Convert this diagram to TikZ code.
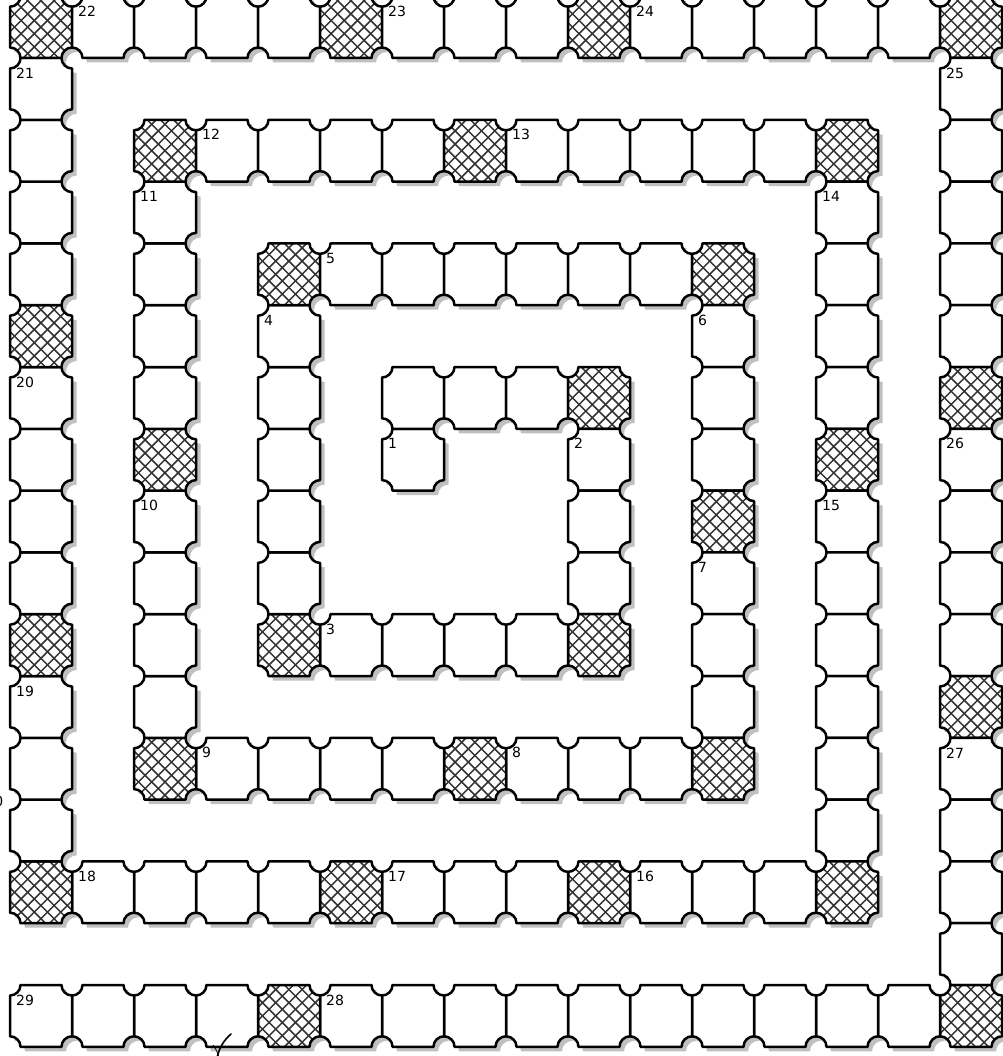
\documentclass[tikz,border=0pt]{standalone}
\usepackage{fontspec}
\setmainfont{DejaVu Sans}
\definecolor{shadowc}{RGB}{192,192,192}
\definecolor{hatchc}{RGB}{50,50,50}
\def\celllist{6/7/0, 6/6/0, 7/6/0, 8/6/0, 9/6/1,
9/7/0, 9/8/0, 9/9/0, 9/10/1,
8/10/0, 7/10/0, 6/10/0, 5/10/0, 4/10/1,
4/9/0, 4/8/0, 4/7/0, 4/6/0, 4/5/0, 4/4/1,
5/4/0, 6/4/0, 7/4/0, 8/4/0, 9/4/0, 10/4/0, 11/4/1,
11/5/0, 11/6/0, 11/7/0, 11/8/1, 11/9/0, 11/10/0, 11/11/0, 11/12/1,
10/12/0, 9/12/0, 8/12/0, 7/12/1, 6/12/0, 5/12/0, 4/12/0, 3/12/0, 2/12/1,
2/11/0, 2/10/0, 2/9/0, 2/8/0, 2/7/1, 2/6/0, 2/5/0, 2/4/0, 2/3/0, 2/2/1,
3/2/0, 4/2/0, 5/2/0, 6/2/0, 7/2/1, 8/2/0, 9/2/0, 10/2/0, 11/2/0, 12/2/0, 13/2/1,
13/3/0, 13/4/0, 13/5/0, 13/6/0, 13/7/1, 13/8/0, 13/9/0, 13/10/0, 13/11/0, 13/12/0, 13/13/0, 13/14/1,
12/14/0, 11/14/0, 10/14/0, 9/14/1, 8/14/0, 7/14/0, 6/14/0, 5/14/1, 4/14/0, 3/14/0, 2/14/0, 1/14/0, 0/14/1,
0/13/0, 0/12/0, 0/11/0, 0/10/1, 0/9/0, 0/8/0, 0/7/0, 0/6/0, 0/5/1, 0/4/0, 0/3/0, 0/2/0, 0/1/0, 0/0/1,
1/0/0, 2/0/0, 3/0/0, 4/0/0, 5/0/1, 6/0/0, 7/0/0, 8/0/0, 9/0/1, 10/0/0, 11/0/0, 12/0/0, 13/0/0, 14/0/0, 15/0/1,
15/1/0, 15/2/0, 15/3/0, 15/4/0, 15/5/0, 15/6/1, 15/7/0, 15/8/0, 15/9/0, 15/10/0, 15/11/1, 15/12/0, 15/13/0, 15/14/0, 15/15/0, 15/16/1,
14/16/0, 13/16/0, 12/16/0, 11/16/0, 10/16/0, 9/16/0, 8/16/0, 7/16/0, 6/16/0, 5/16/0, 4/16/1, 3/16/0, 2/16/0, 1/16/0, 0/16/0}
\begin{document}
\begin{tikzpicture}[x=1pt,y=1pt,
  tileshape/.style={insert path={(10.5,0) -- (51.5,0) arc[start angle=180,end angle=90,radius=10.5] -- (62,51.3) arc[start angle=270,end angle=180,radius=10.5] -- (10.5,61.8) arc[start angle=0,end angle=-90,radius=10.5] -- (0,10.5) arc[start angle=90,end angle=0,radius=10.5] -- cycle}},
  tileline/.style={draw=black,line width=2.5pt,line join=round},
  hatchline/.style={draw=hatchc,line width=1.5pt},
  lbl/.style={anchor=west,inner sep=0pt,font=\fontsize{14}{16}\selectfont}]
\useasboundingbox[fill=white] (0,0) rectangle (1002,-1056);
% shadows
\foreach \c/\r/\h in \celllist {
  \pgfmathsetmacro\X{10+62*\c}
  \pgfmathsetmacro\Y{3.8-61.8*\r-61.8}
  \fill[shadowc, shift={(\X+4.5,\Y-4.5)}, tileshape];
}
% tiles
\foreach \c/\r/\h in \celllist {
  \pgfmathsetmacro\X{10+62*\c}
  \pgfmathsetmacro\Y{3.8-61.8*\r-61.8}
  \begin{scope}[shift={(\X,\Y)}]
    \fill[white, tileshape];
    \ifnum\h=1
      \begin{scope}
        \clip[tileshape];
        \foreach \k in {-5,...,5} {
          \draw[hatchline] (\k*13.2-4,-4) -- ++(70,70);
          \draw[hatchline] (\k*13.2-4,65.8) -- ++(70,-70);
        }
      \end{scope}
    \fi
    \draw[tileline, tileshape];
  \end{scope}
}
% labels
\foreach \c/\r/\t in {6/7/1, 9/7/2, 5/10/3, 4/5/4, 5/4/5, 11/5/6, 11/9/7, 8/12/8, 3/12/9, 2/8/10, 2/3/11, 3/2/12, 8/2/13, 13/3/14, 13/8/15, 10/14/16, 6/14/17, 1/14/18, 0/11/19, 0/6/20, 0/1/21, 1/0/22, 6/0/23, 10/0/24, 15/1/25, 15/7/26, 15/12/27, 5/16/28, 0/16/29} {
  \node[lbl] (lab\t) at ({10+62*\c+6},{-(-3.8+61.8*\r+15)}) {\t};
}
\node[lbl,anchor=east] (lab30) at (3.5,-801) {30};
% cut-off flourish at the bottom
\draw[line width=1.6pt,line cap=round] (231,-1034) .. controls (224,-1040) and (219,-1048) .. (217,-1058);
\draw[line width=0.8pt] (213,-1045) .. controls (216,-1049) and (218,-1053) .. (219,-1058);
\end{tikzpicture}
\end{document}
